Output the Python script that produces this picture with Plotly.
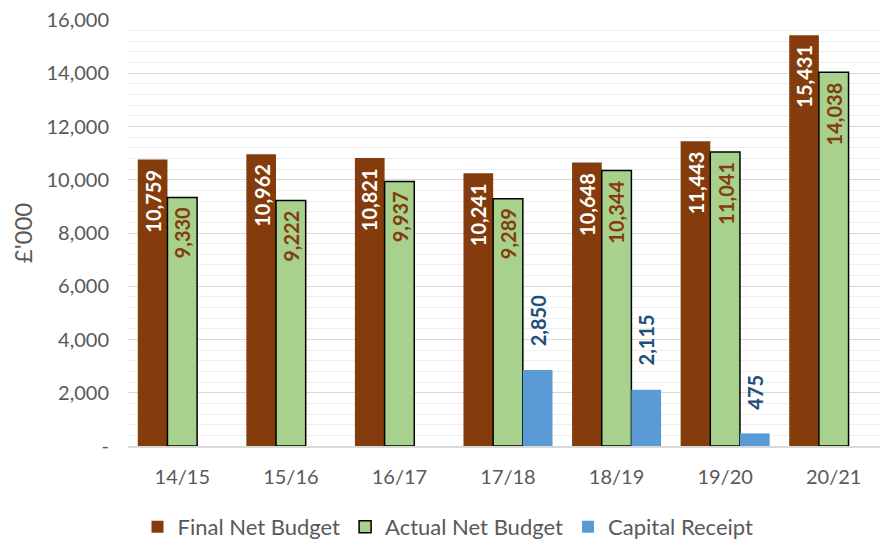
import plotly.graph_objects as go

categories = ["14/15", "15/16", "16/17", "17/18", "18/19", "19/20", "20/21"]
final_net_budget = [10759, 10962, 10821, 10241, 10648, 11443, 15431]
actual_net_budget = [9330, 9222, 9937, 9289, 10344, 11041, 14038]
capital_receipt = [None, None, None, 2850, 2115, 475, None]
tick_vals = [0, 2000, 4000, 6000, 8000, 10000, 12000, 14000, 16000]
tick_text = ["-", "2,000", "4,000", "6,000", "8,000", "10,000", "12,000", "14,000", "16,000"]

FONT = "Lato"
BARGAP = 0.18
fmt = lambda v: f"{v:,}"

fig = go.Figure()
fig.add_trace(go.Bar(
    name="Final Net Budget", x=categories, y=final_net_budget,
    marker=dict(color="#843C0C", line=dict(width=0)),
))
fig.add_trace(go.Bar(
    name="Actual Net Budget", x=categories, y=actual_net_budget,
    marker=dict(color="#A9D18E", line=dict(width=1.5, color="black")),
))
fig.add_trace(go.Bar(
    name="Capital Receipt", x=categories, y=capital_receipt,
    marker=dict(color="#5B9BD5", line=dict(width=0)),
))

bw = (1 - BARGAP) / 3  # bar width in category units
series = [
    (final_net_budget, -bw, "white", "top", -8),
    (actual_net_budget, 0.0, "#843C0C", "top", -8),
    (capital_receipt, bw, "#1F4E79", "bottom", 22),
]
for vals, off, col, anchor, shift in series:
    for i, v in enumerate(vals):
        if v is None:
            continue
        fig.add_annotation(
            x=i + off, y=v, xref="x", yref="y",
            text=fmt(v), textangle=-90, showarrow=False,
            xanchor="center", yanchor=anchor, yshift=shift,
            font=dict(family=FONT, size=20, color=col, weight="bold"),
        )

fig.update_layout(
    width=880, height=534,
    margin=dict(l=120, r=0, t=12, b=96, autoexpand=False),
    barmode="group", bargap=BARGAP, bargroupgap=0,
    plot_bgcolor="white", paper_bgcolor="white",
    font=dict(family=FONT, color="#595959", size=20),
    showlegend=True,
    legend=dict(orientation="h", xref="container", x=0.5, xanchor="center",
                yref="container", y=0.028, yanchor="middle",
                font=dict(family=FONT, size=22, color="#595959"),
                itemwidth=30, traceorder="normal"),
    yaxis=dict(
        range=[0, 16000], tickvals=tick_vals, ticktext=tick_text,
        showgrid=True, gridcolor="#D9D9D9", gridwidth=1,
        minor=dict(dtick=400, showgrid=True, gridcolor="#EEEEEE", gridwidth=1),
        zeroline=False, showline=False, automargin=False,
        tickfont=dict(family=FONT, size=20, color="#595959"),
        title=dict(text="£'000", font=dict(family=FONT, size=24, color="#595959"), standoff=13),
        ticks="", ticklabelstandoff=18, ticklabeloverflow="allow",
    ),
    xaxis=dict(
        showline=True, linecolor="#D9D9D9", linewidth=1.5, automargin=False,
        tickfont=dict(family=FONT, size=20, color="#595959"),
        ticks="", ticklabelstandoff=12,
    ),
)

fig.write_html("out.html")
